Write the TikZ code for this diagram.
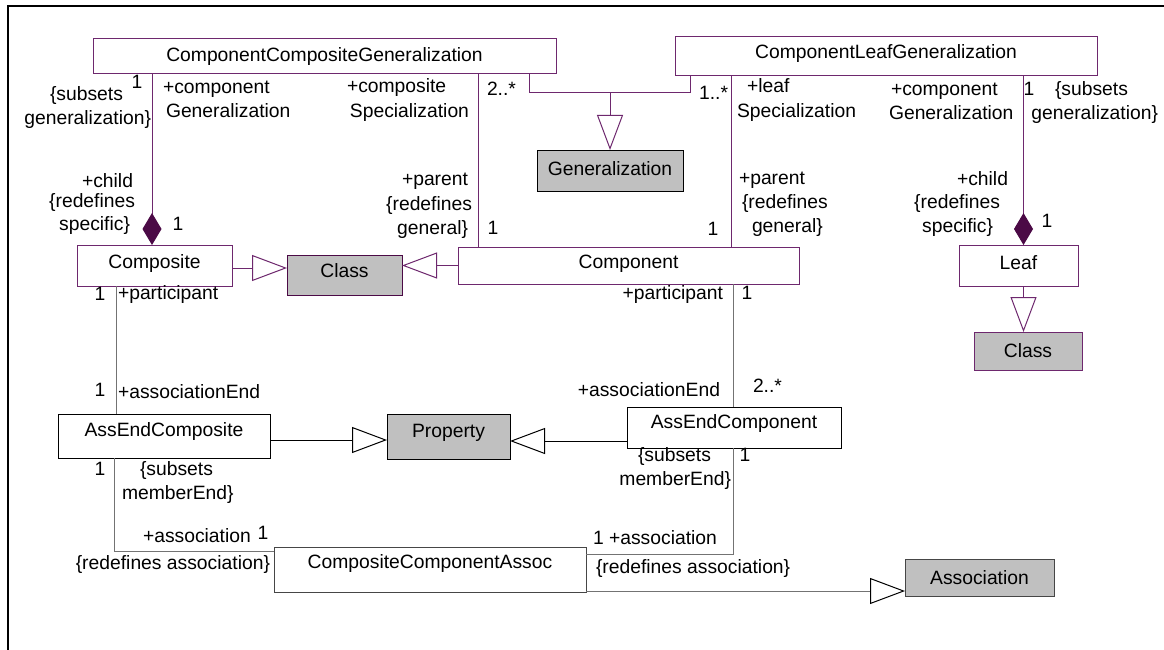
\documentclass[tikz,border=0pt]{standalone}
\usepackage{fontspec}
\setmainfont{Liberation Sans}
\usetikzlibrary{arrows.meta}
\newcommand\labfont{\fontsize{19.3}{22}\selectfont}
\newcommand\rais[2]{\raisebox{#1}[\height][\depth]{#2}}
\definecolor{pur}{RGB}{110,40,110}
\definecolor{dpur}{RGB}{75,10,70}
\definecolor{boxgrey}{RGB}{192,192,192}
\definecolor{lgrey}{RGB}{115,115,115}
\definecolor{dgrey}{RGB}{70,70,70}
\tikzset{
  GenTri/.tip={Triangle[open,fill=white,length=35pt,width=26pt]},
  GenTriK/.tip={Triangle[open,fill=white,color=black,length=35pt,width=26pt]},
  CompDia/.tip={Diamond[length=32pt,width=19pt,fill=dpur,color=dpur]},
  umlbox/.style={draw,rectangle,inner sep=0pt,outer sep=0pt,line width=1pt,font=\labfont,fill=white},
  pbox/.style={umlbox,draw=pur},
  kbox/.style={umlbox,draw=black},
  gkbox/.style={umlbox,draw=dgrey},
  greyfill/.style={fill=boxgrey},
  lbl/.style={inner sep=0pt,outer sep=0pt,font=\labfont,text height=0.72em,text depth=0.21em},
  pline/.style={draw=pur,line width=1pt},
  gline/.style={draw=lgrey,line width=1pt},
  kline/.style={draw=black,line width=1pt}
}
\begin{document}
\begin{tikzpicture}[x=1pt,y=-1pt]
\useasboundingbox (0,0) rectangle (1164,650);
\fill[white] (0,0) rectangle (1164,650);
% frame
\draw[line width=2pt] (1164,6) -- (8,6) -- (8,650);

% boxes
\node[pbox,minimum width=463pt,minimum height=35pt] (CCG) at (324.5,56.5) {ComponentCompositeGeneralization};
\node[pbox,minimum width=422pt,minimum height=39pt] (CLG) at (886,56.5) {\rais{3pt}{ComponentLeafGeneralization}};
\node[kbox,greyfill,minimum width=146pt,minimum height=41pt] (Gen) at (610,170.5) {\rais{2pt}{Generalization}};
\node[pbox,minimum width=155pt,minimum height=41pt] (Composite) at (154.5,265.5) {\rais{2pt}{Composite}};
\node[pbox,draw=dpur,greyfill,minimum width=115pt,minimum height=40pt] (ClassL) at (344.5,275) {\rais{4pt}{Class}};
\node[pbox,minimum width=341pt,minimum height=37pt] (Component) at (628.5,265.5) {\rais{2pt}{Component}};
\node[pbox,minimum width=119pt,minimum height=41pt] (Leaf) at (1018.5,265.5) {\rais{3pt}{Leaf}};
\node[pbox,greyfill,minimum width=108pt,minimum height=38pt] (ClassR) at (1028,351) {Class};
\node[kbox,greyfill,minimum width=123pt,minimum height=45pt] (Property) at (448.5,436.5) {\rais{4pt}{Property}};
\node[kbox,minimum width=212pt,minimum height=44pt] (AEComposite) at (164,436) {\rais{4pt}{AssEndComposite}};
\node[kbox,minimum width=214pt,minimum height=41pt] (AEComponent) at (734,427.5) {\rais{4pt}{AssEndComponent}};
\node[gkbox,minimum width=312pt,minimum height=45pt] (CCA) at (430,569.5) {\rais{6pt}{CompositeComponentAssoc}};
\node[kbox,draw=dgrey,greyfill,minimum width=149pt,minimum height=37pt] (Association) at (979.5,577.5) {Association};

% guides
\coordinate (vA) at (152,0);
\coordinate (vB) at (478,0);
\coordinate (vC) at (529,0);
\coordinate (vD) at (690,0);
\coordinate (vE) at (731,0);
\coordinate (vF) at (1023.5,0);
\coordinate (vG) at (116,0);
\coordinate (vH) at (733,0);
\coordinate (vI) at (114,0);
\coordinate (hJ) at (0,93);
\coordinate (hK) at (0,551);
\coordinate (hL) at (0,554);
\coordinate (hM) at (0,591);
\coordinate (hN) at (0,268);
\coordinate (hO) at (0,440);
\coordinate (hP) at (0,441);

% connectors
\draw[pline,-CompDia] (CCG.south -| vA) -- (Composite.north -| vA);
\draw[pline] (CCG.south -| vB) -- (Component.north -| vB);
\draw[pline] (CCG.south -| vC) -- (hJ -| vC) -- (hJ -| vD) -- (CLG.south -| vD);
\draw[pline,-GenTri] (hJ -| Gen.north) -- (Gen.north);
\draw[pline] (CLG.south -| vE) -- (Component.north -| vE);
\draw[pline,-CompDia] (CLG.south -| vF) -- (Leaf.north -| vF);
\draw[pline,-GenTri] (Leaf.south -| vF) -- (ClassR.north -| vF);
\draw[pline,-GenTri] (Composite.east |- hN) -- (ClassL.west |- hN);
\draw[pline,-GenTri] (Component.west) -- (Component.west -| ClassL.east);
\draw[gline] (Composite.south -| vG) -- (AEComposite.north -| vG);
\draw[gline] (Component.south -| vH) -- (AEComponent.north -| vH);
\draw[kline,-GenTri] (AEComposite.east |- hO) -- (Property.west |- hO);
\draw[kline,-GenTri] (AEComponent.west |- hP) -- (Property.east |- hP);
\draw[gline] (AEComposite.south -| vI) |- (CCA.west |- hK);
\draw[gline] (AEComponent.south -| vH) |- (CCA.east |- hL);
\draw[gline,-GenTriK] (CCA.east |- hM) -- (Association.west |- hM);

% labels top
\node[lbl] (t1) at (137,86) {1};
\node[lbl,anchor=west] (t2) at (50,98) {\{subsets};
\node[lbl,anchor=east] (t3) at (151,122) {generalization\}};
\node[lbl,anchor=west] (t4) at (163,91) {+component};
\node[lbl,anchor=west] (t5) at (166,115) {Generalization};
\node[lbl,anchor=west] (t6) at (347,90) {+composite};
\node[lbl,anchor=east] (t7) at (469,115) {Specialization};
\node[lbl,anchor=west] (t8) at (487,93) {2..*};
\node[lbl,anchor=east] (t9) at (728,97) {1..*};
\node[lbl,anchor=west] (t10) at (747,90) {+leaf};
\node[lbl,anchor=west] (t11) at (737,115) {Specialization};
\node[lbl,anchor=west] (t12) at (891,93) {+component};
\node[lbl,anchor=west] (t13) at (889,117) {Generalization};
\node[lbl] (t14) at (1029,93) {1};
\node[lbl,anchor=west] (t15) at (1055,93) {\{subsets};
\node[lbl,anchor=east] (t16) at (1158,117) {generalization\}};
% labels middle
\node[lbl,anchor=east] (t17) at (133,185) {+child};
\node[lbl,anchor=east] (t18) at (135,205) {\{redefines};
\node[lbl,anchor=east] (t19) at (130,228) {specific\}};
\node[lbl] (t20) at (178,228) {1};
\node[lbl,anchor=east] (t21) at (468,183) {+parent};
\node[lbl,anchor=east] (t22) at (472,208) {\{redefines};
\node[lbl,anchor=east] (t23) at (468,232) {general\}};
\node[lbl] (t24) at (493,232) {1};
\node[lbl] (t25) at (713,233) {1};
\node[lbl,anchor=west] (t26) at (739,182) {+parent};
\node[lbl,anchor=west] (t27) at (742,206) {\{redefines};
\node[lbl,anchor=west] (t28) at (752,230) {general\}};
\node[lbl,anchor=east] (t29) at (1008,183) {+child};
\node[lbl,anchor=east] (t30) at (1000,206) {\{redefines};
\node[lbl,anchor=east] (t31) at (993,230) {specific\}};
\node[lbl] (t32) at (1047,225) {1};
% labels lower
\node[lbl] (t33) at (100,298) {1};
\node[lbl,anchor=west] (t34) at (118,297) {+participant};
\node[lbl] (t35) at (100,394) {1};
\node[lbl,anchor=west] (t36) at (118,396) {+associationEnd};
\node[lbl,anchor=east] (t37) at (723,297) {+participant};
\node[lbl] (t38) at (747,297) {1};
\node[lbl,anchor=east] (t39) at (720,394) {+associationEnd};
\node[lbl,anchor=west] (t40) at (753,390) {2..*};
\node[lbl] (t41) at (100,473) {1};
\node[lbl,anchor=west] (t42) at (140,473) {\{subsets};
\node[lbl,anchor=west] (t43) at (122,497) {memberEnd\}};
\node[lbl,anchor=west] (t44) at (143,540) {+association};
\node[lbl] (t45) at (263,537) {1};
\node[lbl,anchor=east] (t46) at (270,567) {\{redefines association\}};
\node[lbl,anchor=west] (t47) at (638,459) {\{subsets};
\node[lbl,anchor=east] (t48) at (731,483) {memberEnd\}};
\node[lbl] (t49) at (745,459) {1};
\node[lbl,anchor=west] (t50) at (593,542) {1 +association};
\node[lbl,anchor=west] (t51) at (596,571) {\{redefines association\}};
\end{tikzpicture}
\end{document}
